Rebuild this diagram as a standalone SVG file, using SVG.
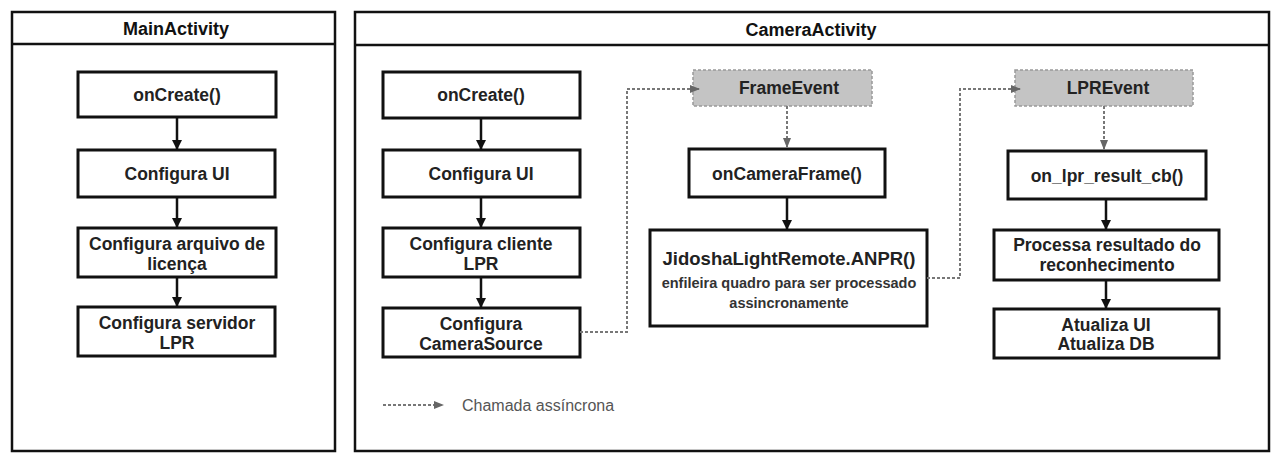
<svg xmlns="http://www.w3.org/2000/svg" width="1276" height="459" viewBox="0 0 1276 459">
<style>
.frame{fill:#fff;stroke:#111;stroke-width:2.5}
.box{fill:#fff;stroke:#111;stroke-width:3}
.evt{fill:#c4c4c4;stroke:#999;stroke-width:1.5;stroke-dasharray:3 2}
.t{font-family:"Liberation Sans",Arial,sans-serif;font-size:17.5px;font-weight:bold;fill:#222;text-anchor:middle;dominant-baseline:central}
.ts{font-family:"Liberation Sans",Arial,sans-serif;font-size:14.5px;font-weight:bold;fill:#333;text-anchor:middle;dominant-baseline:central}
.h{font-family:"Liberation Sans",Arial,sans-serif;font-size:18px;font-weight:bold;fill:#111;text-anchor:middle;dominant-baseline:central}
.leg{font-family:"Liberation Sans",Arial,sans-serif;font-size:16px;fill:#555;dominant-baseline:central}
.solid{fill:none;stroke:#111;stroke-width:2.5}
.dash{fill:none;stroke:#777;stroke-width:2;stroke-dasharray:3 2}
</style>
<defs>
<marker id="ah" viewBox="0 0 10 10" refX="9" refY="5" markerWidth="4" markerHeight="4" orient="auto-start-reverse"><path d="M0,0 L10,5 L0,10 z" fill="#111"/></marker>
<marker id="ahd" viewBox="0 0 10 10" refX="9" refY="5" markerWidth="5" markerHeight="5" orient="auto-start-reverse"><path d="M0,1 L10,5 L0,9 z" fill="#666"/></marker>
</defs>
<rect width="1276" height="459" fill="#fff"/>
<g id="mainActivity">
<rect class="frame" x="12" y="12" width="323" height="439"/>
<line x1="12" y1="44" x2="335" y2="44" stroke="#111" stroke-width="2.5"/>
<text class="h" x="176" y="29">MainActivity</text>
</g>
<g id="cameraActivity">
<rect class="frame" x="355" y="12" width="914" height="439"/>
<line x1="355" y1="45" x2="1269" y2="45" stroke="#111" stroke-width="2.5"/>
<text class="h" x="811" y="30">CameraActivity</text>
</g>
<g id="m_onCreate"><rect class="box" x="78" y="72" width="198" height="45"/><text class="t" x="177" y="95">onCreate()</text></g>
<g id="m_ui"><rect class="box" x="78" y="150" width="197" height="47"/><text class="t" x="177" y="174">Configura UI</text></g>
<g id="m_lic"><rect class="box" x="78" y="228" width="198" height="49"/><text class="t" x="177" y="244">Configura arquivo de</text><text class="t" x="177" y="264">licença</text></g>
<g id="m_srv"><rect class="box" x="78" y="307" width="197" height="49"/><text class="t" x="177" y="323">Configura servidor</text><text class="t" x="177" y="343">LPR</text></g>
<g id="c_onCreate"><rect class="box" x="383" y="72" width="197" height="46"/><text class="t" x="481" y="95">onCreate()</text></g>
<g id="c_ui"><rect class="box" x="383" y="150" width="197" height="47"/><text class="t" x="481" y="174">Configura UI</text></g>
<g id="c_cli"><rect class="box" x="383" y="228" width="197" height="49"/><text class="t" x="481" y="244">Configura cliente</text><text class="t" x="481" y="264">LPR</text></g>
<g id="c_cam"><rect class="box" x="383" y="308" width="197" height="49"/><text class="t" x="481" y="324">Configura</text><text class="t" x="481" y="344">CameraSource</text></g>
<g id="frameEvent"><rect class="evt" x="693" y="70" width="179" height="36"/><text class="t" x="789" y="88">FrameEvent</text></g>
<g id="onCameraFrame"><rect class="box" x="689" y="149" width="196" height="48"/><text class="t" x="787" y="174">onCameraFrame()</text></g>
<g id="jidosha"><rect class="box" x="650" y="230" width="277" height="96"/><text class="t" x="789" y="258" style="font-size:18.5px">JidoshaLightRemote.ANPR()</text><text class="ts" x="789" y="283">enfileira quadro para ser processado</text><text class="ts" x="789" y="303">assincronamente</text></g>
<g id="lprEvent"><rect class="evt" x="1015" y="70" width="178" height="36"/><text class="t" x="1108" y="88">LPREvent</text></g>
<g id="onLprResult"><rect class="box" x="1008" y="151" width="198" height="48"/><text class="t" x="1107" y="176">on_lpr_result_cb()</text></g>
<g id="processa"><rect class="box" x="994" y="230" width="225" height="50"/><text class="t" x="1107" y="245">Processa resultado do</text><text class="t" x="1107" y="265">reconhecimento</text></g>
<g id="atualiza"><rect class="box" x="994" y="309" width="225" height="49"/><text class="t" x="1106" y="325">Atualiza UI</text><text class="t" x="1106" y="344">Atualiza DB</text></g>
<g id="connectors">
<line class="solid" x1="177" y1="117" x2="177" y2="149" marker-end="url(#ah)"/>
<line class="solid" x1="177" y1="197" x2="177" y2="227" marker-end="url(#ah)"/>
<line class="solid" x1="177" y1="277" x2="177" y2="306" marker-end="url(#ah)"/>
<line class="solid" x1="481" y1="118" x2="481" y2="149" marker-end="url(#ah)"/>
<line class="solid" x1="481" y1="197" x2="481" y2="227" marker-end="url(#ah)"/>
<line class="solid" x1="481" y1="277" x2="481" y2="307" marker-end="url(#ah)"/>
<path class="dash" d="M580,332 H627 V89 H699" marker-end="url(#ahd)"/>
<line class="dash" x1="787" y1="106" x2="787" y2="147" marker-end="url(#ahd)"/>
<line class="solid" x1="787" y1="197" x2="787" y2="229" marker-end="url(#ah)"/>
<path class="dash" d="M927,278 H960 V89 H1020" marker-end="url(#ahd)"/>
<line class="dash" x1="1104" y1="106" x2="1104" y2="149" marker-end="url(#ahd)"/>
<line class="solid" x1="1106" y1="199" x2="1106" y2="229" marker-end="url(#ah)"/>
<line class="solid" x1="1106" y1="280" x2="1106" y2="308" marker-end="url(#ah)"/>
</g>
<g id="legend">
<line class="dash" x1="383" y1="405" x2="443" y2="405" marker-end="url(#ahd)"/>
<text class="leg" x="462" y="405">Chamada assíncrona</text>
</g>
</svg>
